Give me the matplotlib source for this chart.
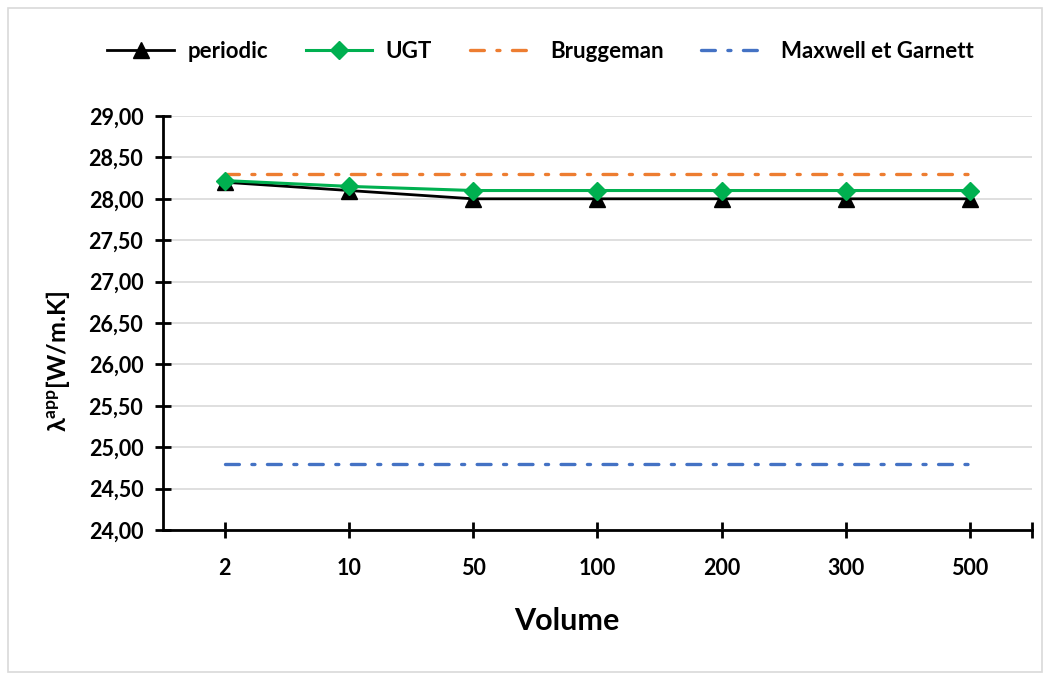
import matplotlib
matplotlib.use("Agg")
import matplotlib.pyplot as plt
from matplotlib.patches import Rectangle
from matplotlib.ticker import FuncFormatter

volumes = ["2", "10", "50", "100", "200", "300", "500"]
periodic = [28.20, 28.10, 28.00, 28.00, 28.00, 28.00, 28.00]
ugt = [28.22, 28.15, 28.10, 28.10, 28.10, 28.10, 28.10]
bruggeman = [28.30] * 7
maxwell = [24.80] * 7

plt.rcParams['font.family'] = ['Lato', 'DejaVu Sans']
plt.rcParams['font.weight'] = 'bold'
plt.rcParams['lines.scale_dashes'] = False
plt.rcParams['mathtext.fontset'] = 'custom'
plt.rcParams['mathtext.bf'] = 'Lato:bold'
plt.rcParams['mathtext.rm'] = 'Lato:bold'

fig = plt.figure(figsize=(10.5, 6.8), dpi=100)
fig.patches.append(Rectangle((0.008, 0.012), 0.984, 0.976, transform=fig.transFigure,
                             fill=False, edgecolor='#d9d9d9', linewidth=1.2))
ax = fig.add_axes([0.155, 0.2206, 0.828, 0.6088])

x = list(range(len(volumes)))
ax.plot(x, periodic, color='black', lw=2, marker='^', ms=12, label='periodic', zorder=4)
ax.plot(x, ugt, color='#00B050', lw=2.2, marker='D', ms=9.5, label='UGT', zorder=5)
dash = (10, 9, 2.2, 9)
ax.plot(x, bruggeman, color='#ED7D31', lw=2.4, dashes=dash, dash_capstyle='round',
        label='Bruggeman', zorder=3)
ax.plot(x, maxwell, color='#4472C4', lw=2.4, dashes=dash, dash_capstyle='round',
        label='Maxwell et Garnett', zorder=3)

ax.set_xlim(-0.5, 6.5)
ax.set_ylim(24, 29)
ax.set_xticks(x + [6.5])
ax.set_xticklabels(volumes + [""])
ax.set_yticks([24 + 0.5 * i for i in range(11)])
ax.yaxis.set_major_formatter(FuncFormatter(lambda v, p: f"{v:.2f}".replace('.', ',')))
ax.grid(axis='y', color='#d9d9d9', lw=1.2)
ax.set_axisbelow(True)
for s in ['top', 'right']:
    ax.spines[s].set_visible(False)
for s in ['left', 'bottom']:
    ax.spines[s].set_linewidth(2)
ax.tick_params(axis='both', direction='inout', length=12, width=2, labelsize=15.5, pad=8)
ax.tick_params(axis='x', pad=14)

fig.text(58 / 1050, 1 - 361 / 680, r'$\mathbf{\lambda}^{\mathrm{app}}$[W/m.K]',
         rotation=90, ha='center', va='center', rotation_mode='anchor',
         fontsize=18, fontweight='bold')
fig.text(567 / 1050, 1 - 621 / 680, 'Volume', ha='center', va='center',
         fontsize=22, fontweight='bold')

fig.legend(loc='center', bbox_to_anchor=(0.515, 0.924), ncol=4, frameon=False,
           fontsize=16, handlelength=3.0, columnspacing=1.7, handletextpad=0.6)

fig.savefig('out.png', dpi=100)
